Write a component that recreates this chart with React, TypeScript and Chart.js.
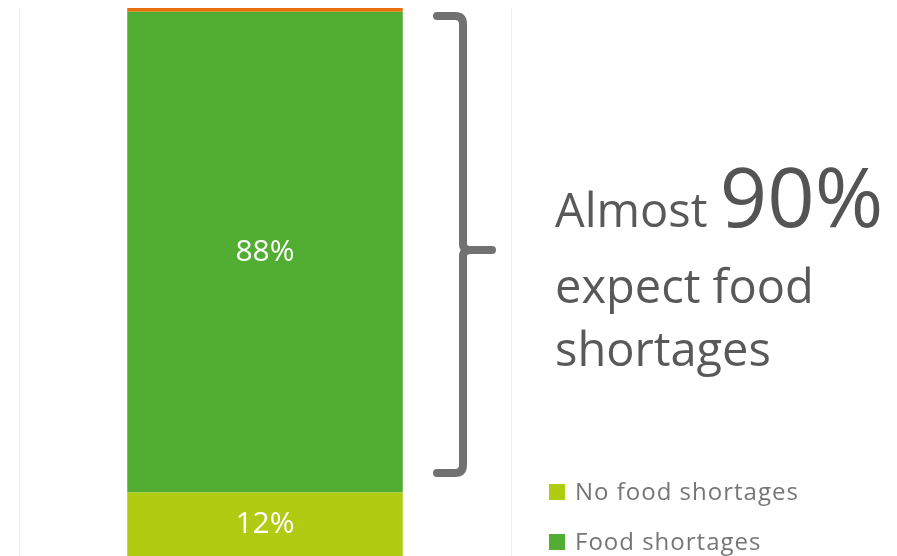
import React, { useEffect, useRef } from "react";
import { Chart, registerables } from "chart.js";

Chart.register(...registerables);

const categories = ["Survey"];
const seriesLabels = ["No food shortages", "Food shortages", "Don't know"];
const noShortage = [11.6];
const shortage = [87.7];
const dontKnow = [0.7];
const seriesColors = ["#b0cc12", "#52ae32", "#e8700f"];
const legendSeries = [0, 1];
const headline = ["Almost ", "90%", "expect food", "shortages"];

const overlayPlugin = {
  id: "overlay",
  afterDatasetsDraw(chart: any) {
    const ctx = chart.ctx;
    ctx.save();
    // bar value labels
    ctx.fillStyle = "#ffffff";
    ctx.font = "30px 'Open Sans'";
    ctx.textAlign = "center";
    ctx.textBaseline = "middle";
    [0, 1].forEach((i) => {
      const el: any = chart.getDatasetMeta(i).data[0];
      const v = chart.data.datasets[i].data[0] as number;
      ctx.fillText(Math.round(v) + "%", el.x, (el.y + el.base) / 2);
    });

    // brace
    ctx.strokeStyle = "#717171";
    ctx.lineWidth = 8;
    ctx.lineCap = "round";
    ctx.lineJoin = "round";
    const x0 = 437, xv = 463, yt = 16, yb = 473, ym = 250, tip = 492;
    ctx.beginPath();
    ctx.moveTo(x0, yt);
    ctx.lineTo(xv - 8, yt);
    ctx.quadraticCurveTo(xv, yt, xv, yt + 8);
    ctx.lineTo(xv, ym - 6);
    ctx.quadraticCurveTo(xv, ym, xv + 8, ym);
    ctx.lineTo(tip, ym);
    ctx.moveTo(xv + 8, ym);
    ctx.quadraticCurveTo(xv, ym, xv, ym + 6);
    ctx.lineTo(xv, yb - 8);
    ctx.quadraticCurveTo(xv, yb, xv - 8, yb);
    ctx.lineTo(x0, yb);
    ctx.stroke();

    // headline text
    ctx.fillStyle = "#595959";
    ctx.textAlign = "left";
    ctx.textBaseline = "alphabetic";
    ctx.font = "47px 'Open Sans'";
    ctx.fillText(headline[0], 555, 227);
    const w = ctx.measureText(headline[0]).width;
    ctx.fillStyle = "#545454";
    ctx.font = "83px 'Open Sans'";
    ctx.fillText(headline[1], 555 + w, 227);
    ctx.fillStyle = "#595959";
    ctx.font = "47px 'Open Sans'";
    ctx.fillText(headline[2], 555, 303);
    ctx.fillText(headline[3], 555, 366);

    // legend
    ctx.font = "24px 'Open Sans'";
    (ctx as any).letterSpacing = "1px";
    ctx.textBaseline = "middle";
    legendSeries.forEach((si, k) => {
      const cy = 492 + k * 50;
      ctx.fillStyle = seriesColors[si];
      ctx.fillRect(549, cy - 8, 16, 16);
      ctx.fillStyle = "#767676";
      ctx.fillText(seriesLabels[si], 575, cy + 1);
    });
    ctx.restore();
  },
};

export default function App() {
  const ref = useRef<HTMLCanvasElement>(null);
  useEffect(() => {
    const chart = new Chart(ref.current!, {
      type: "bar",
      data: {
        labels: categories,
        datasets: [
          { label: seriesLabels[0], data: noShortage, backgroundColor: seriesColors[0] },
          { label: seriesLabels[1], data: shortage, backgroundColor: seriesColors[1] },
          { label: seriesLabels[2], data: dontKnow, backgroundColor: seriesColors[2] },
        ],
      },
      options: {
        animation: false,
        responsive: false,
        maintainAspectRatio: false,
        layout: { padding: { left: 19, right: 386, top: 8, bottom: 0 } },
        datasets: { bar: { categoryPercentage: 1, barPercentage: 0.56, borderWidth: 0 } },
        plugins: { legend: { display: false }, tooltip: { enabled: false } },
        scales: {
          x: {
            stacked: true,
            display: true,
            grid: { color: "#eef0f8", offset: true, drawTicks: false, lineWidth: 1 },
            border: { color: "#eef0f8" },
            ticks: { display: false },
          },
          y: { stacked: true, display: false, min: 0, max: 100 },
        },
      },
      plugins: [overlayPlugin],
    });
    return () => chart.destroy();
  }, []);
  return (
    <div style={{ position: "absolute", left: 0, top: 0, width: 897, height: 556 }}>
      <canvas ref={ref} width={897} height={556} style={{ width: 897, height: 556 }} />
    </div>
  );
}
